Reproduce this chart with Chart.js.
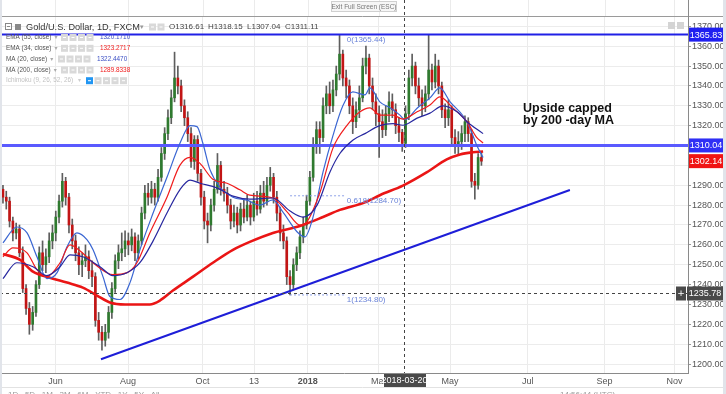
<!DOCTYPE html>
<html>
<head>
<meta charset="utf-8">
<script src="https://cdn.jsdelivr.net/npm/chart.js@4/dist/chart.umd.min.js"></script>
<style>
html,body{margin:0;padding:0;background:#fff;overflow:hidden}
canvas{display:block}
</style>
</head>
<body>
<canvas id="c" width="726" height="394"></canvas>
<script>
// daily candles, one per bar index (0 = first bar on screen)
var opens = [1288,1284,1282,1272,1266,1268,1256,1238,1228,1220,
  1226,1240,1256,1250,1254,1262,1266,1274,1282,1292,
  1284,1270,1262,1256,1250,1252,1254,1247,1244,1222,
  1216,1212,1216,1226,1238,1252,1256,1258,1262,1260,
  1264,1256,1262,1276,1286,1284,1288,1284,1294,1306,
  1316,1324,1334,1344,1340,1330,1324,1316,1302,1313,
  1296,1284,1272,1270,1280,1288,1300,1288,1286,1280,
  1272,1276,1270,1278,1274,1280,1274,1282,1278,1286,
  1282,1290,1294,1284,1276,1266,1262,1244,1240,1250,
  1256,1264,1270,1282,1294,1310,1318,1314,1330,1336,
  1330,1338,1346,1356,1344,1340,1330,1322,1328,1334,
  1350,1354,1340,1332,1326,1322,1318,1326,1332,1328,
  1320,1316.61,1311.11,1326,1344,1350,1340,1334,1330,1336,
  1348,1342,1350,1340,1328,1324,1328,1314,1310,1312,
  1316,1322,1316,1292,1290,1304];
var closes = [1284,1282,1272,1266,1268,1256,1238,1228,1220,1226,
  1240,1256,1250,1254,1262,1266,1274,1282,1292,1284,
  1270,1262,1256,1250,1252,1254,1247,1244,1222,1216,
  1212,1216,1226,1238,1252,1256,1258,1262,1260,1264,
  1256,1262,1276,1286,1284,1288,1284,1294,1306,1316,
  1324,1334,1344,1340,1330,1324,1316,1302,1313,1296,
  1284,1272,1270,1280,1288,1300,1288,1286,1280,1272,
  1276,1270,1278,1274,1280,1274,1282,1278,1286,1282,
  1290,1294,1284,1276,1266,1262,1244,1240,1250,1256,
  1264,1270,1282,1294,1310,1318,1314,1330,1336,1330,
  1338,1346,1356,1344,1340,1330,1322,1328,1334,1350,
  1354,1340,1332,1326,1322,1318,1326,1332,1328,1320,
  1316.61,1311.11,1326,1344,1350,1340,1334,1330,1336,1348,
  1342,1350,1340,1328,1324,1328,1314,1310,1312,1316,
  1322,1316,1292,1290,1304,1302.14];
var highs = [1290,1287,1284,1274,1271,1270,1259,1240,1231,1229,
  1242,1259,1262,1258,1266,1270,1277,1285,1296,1294,
  1286,1273,1265,1259,1256,1260,1257,1252,1246,1226,
  1219,1220,1229,1241,1255,1260,1266,1267,1266,1268,
  1266,1265,1279,1290,1291,1292,1291,1298,1309,1319,
  1328,1338,1357,1350,1343,1333,1327,1319,1315,1315,
  1298,1287,1276,1283,1292,1306,1302,1292,1289,1283,
  1280,1279,1281,1283,1285,1282,1286,1287,1290,1292,
  1294,1299,1296,1287,1279,1270,1264,1247,1253,1259,
  1267,1274,1285,1297,1314,1322,1322,1334,1340,1342,
  1343,1350,1365.44,1358,1348,1343,1334,1332,1340,1354,
  1360,1356,1344,1336,1330,1328,1330,1337,1336,1331,
  1324,1318.15,1330,1348,1356,1352,1344,1338,1340,1365.8,
  1351,1356,1353,1342,1331,1333,1330,1318,1317,1320,
  1325,1324,1318,1296,1306,1307];
var lows = [1281,1278,1269,1262,1263,1254,1236,1225,1215,1217,
  1224,1238,1247,1246,1251,1258,1262,1271,1279,1280,
  1266,1258,1252,1245,1244,1249,1243,1239,1219,1212,
  1207,1209,1213,1223,1236,1248,1252,1254,1255,1257,
  1252,1253,1260,1273,1280,1281,1280,1282,1292,1303,
  1313,1321,1332,1336,1327,1320,1312,1299,1298,1292,
  1280,1268,1261,1267,1277,1286,1285,1282,1276,1268,
  1269,1266,1267,1271,1272,1270,1272,1275,1276,1279,
  1280,1287,1281,1272,1262,1258,1240,1234.8,1238,1247,
  1253,1261,1268,1280,1292,1306,1306,1312,1326,1326,
  1327,1335,1343,1340,1334,1326,1316,1319,1324,1332,
  1346,1336,1328,1320,1304,1314,1315,1322,1324,1316,
  1312,1307.04,1309,1323,1340,1336,1330,1325,1327,1333,
  1338,1339,1336,1324,1319,1320,1310,1306,1305,1308,
  1312,1312,1289,1283,1288,1300];

// moving averages (bar index, price)
var ma200Idx = [0,5.2,9.1,14.2,19.4,24.2,28.5,32.4,37,44.5,47.6,51.5,57.6,63.6,69.7,74.8,81.8,90,97,102.1,109.7,114.2,121.2,128.5,134.5,138.5,142.4,145.5];
var ma200Val = [1255.4,1252.4,1246.5,1243.5,1241,1238.5,1234.5,1231,1230,1230,1232,1237,1244,1251,1257.5,1261.5,1266,1269.5,1274,1277.6,1281.4,1285,1289.8,1296.6,1303,1305.5,1306.6,1307];
var ma20Idx = [0,4.2,7.3,10.3,13.3,16.4,19.4,22.4,25.5,27.3,30.3,32.4,35.5,38.5,41.5,45.5,49.7,53.6,56.7,58.8,60.6,62.7,65.8,69.7,73.9,77.9,81.8,84.8,89.1,91.5,93.9,97,100,103,106,109.7,111.2,114.2,117.3,120.3,121.8,125.5,129.4,132.4,135.5,139.4,141.5,143.6,145.5];
var ma20Val = [1261,1269,1266,1254,1243,1246,1259,1266,1262.5,1257.5,1244,1234,1232.5,1241,1257.5,1276,1294,1311,1320,1319.5,1311,1298,1289,1284,1282.5,1280,1282.6,1276.6,1266.6,1264,1273.6,1296.7,1315,1330,1337,1335.5,1339,1332,1329,1325.3,1323,1328.8,1334,1339,1332,1325,1318.8,1310,1304];
var ema34Idx = [0,3,7.3,10.3,13.3,17.3,20.3,23.3,27.3,31.5,33.3,37.6,40.6,44.5,49.7,53.6,56.7,59.7,63.6,67.9,71.8,74.8,81.8,86.1,90,92.1,96.1,100,104.2,108.2,111.2,114.2,118.2,121.2,125.5,129.4,132.4,136.4,140.6,143.6,145.5];
var ema34Val = [1254,1258.5,1256,1247.5,1244,1251,1260,1257,1251,1246,1245,1246,1251,1266,1284,1300,1304,1301,1293,1291,1287.7,1285,1283.6,1276.6,1270,1271.6,1286.6,1308.7,1320,1327,1329,1325.3,1325.3,1323.3,1327,1330.4,1334.5,1328.8,1322,1314,1311.3];
var ema55Idx = [0,4.2,9.1,13.3,17.3,20.3,24.2,29.4,33.3,37.6,41.5,45.5,49.7,53.6,56.7,59.7,64.8,69.7,74.8,81.8,87,90.9,95.2,99.1,102.1,106.1,109.7,114.2,118.2,121.2,125.5,129.4,133.3,137.6,140.6,145.5];
var ema55Val = [1243,1251,1249,1244.5,1249,1255,1254,1249,1244.5,1246,1251,1262,1276,1287.7,1292.6,1291,1288.7,1284.5,1283,1283.6,1277,1274,1280,1296.7,1306,1312.8,1316,1320,1321,1320.2,1323.8,1326.3,1330,1327,1322,1316];

// drawings
var levelLines = [1365.83, 1310.04];
var trendIdx = [29.7, 171.8];
var trendVal = [1202.4, 1287.6];
var fibIdx = [87, 103.6];
var fibLevels = [1365.44, 1284.70, 1234.80];
var fibNames = ['0(1365.44)', '0.618(1284.70)', '1(1234.80)'];
var lastClose = 1302.14;
var crossIdx = 121.5;
var crossPrice = 1235.78;
var crossDate = '2018-03-20';

// axes
var xTickPos = [15.9, 37.9, 60.5, 76.1, 92.4, 113.9, 135.5, 159.0, 182.3, 203.5];
var xTickLabels = ['Jun','Aug','Oct','13','2018','Mar','May','Jul','Sep','Nov'];
var yTicks = [1200,1210,1220,1230,1240,1250,1260,1270,1280,1290,1300,1310,1320,1330,1340,1350,1360,1370];

var legendRows = [
  {name:'EMA (55, close)', value:'1320.1710', color:'#3b4fc4', ix:61, vx:100},
  {name:'EMA (34, close)', value:'1323.2717', color:'#f01c1c', ix:61, vx:100},
  {name:'MA (20, close)', value:'1322.4470', color:'#3b4fc4', ix:58, vx:97},
  {name:'MA (200, close)', value:'1289.8338', color:'#f01c1c', ix:61, vx:100}
];

Chart.defaults.font.family = "'Liberation Sans', Arial, sans-serif";

var upCol = '#2f7a2f', downCol = '#c21515';
var bodyCols = closes.map(function(c, i){ return c >= opens[i] ? upCol : downCol; });

function pts(xs, ys){ return xs.map(function(x, i){ return {x:x, y:ys[i]}; }); }
function lineDs(data, color, w, dash){
  return {type:'line', data:data, borderColor:color, borderWidth:w, pointRadius:0,
    borderDash:dash || [], cubicInterpolationMode:'monotone', fill:false, order:1};
}

function txt(c, s, x, y, font, color, align){
  c.font = font; c.fillStyle = color; c.textAlign = align || 'left'; c.textBaseline = 'middle';
  c.fillText(s, x, y);
}
function tag(c, x, y, w, bg, s){
  c.fillStyle = bg; c.fillRect(x, y - 7, w, 14);
  txt(c, s, x + w / 2, y + 0.5, "9px 'Liberation Sans', Arial", '#fff', 'center');
}
function iconBoxes(c, x, y, n, first){
  for (var k = 0; k < n; k++) {
    c.fillStyle = (k === 0 && first) ? first : '#d9d9d9';
    c.fillRect(x + k * 8.5, y - 3.5, 7, 7);
    c.fillStyle = '#fff';
    c.fillRect(x + k * 8.5 + 2, y - 0.5, 3, 1);
  }
}

var overlay = {
  id:'overlay',
  beforeDraw: function(chart){
    var c = chart.ctx;
    c.save(); c.fillStyle = '#fff'; c.fillRect(0, 0, chart.width, chart.height); c.restore();
  },
  afterDraw: function(chart){
    var c = chart.ctx, xs = chart.scales.x, ys = chart.scales.y, a = chart.chartArea;
    c.save();
    // strip above the plot
    c.fillStyle = '#fff'; c.fillRect(0, 0, chart.width, a.top);
    c.strokeStyle = '#ebebeb'; c.lineWidth = 1;
    xTickPos.forEach(function(v){
      var x = Math.round(xs.getPixelForValue(v)) + 0.5;
      c.beginPath(); c.moveTo(x, 0); c.lineTo(x, a.top); c.stroke();
    });
    c.strokeStyle = '#9a9a9a';
    c.beginPath(); c.moveTo(2, a.top + 0.5); c.lineTo(723, a.top + 0.5); c.stroke();
    c.strokeStyle = '#8a8a8a';
    c.beginPath(); c.moveTo(a.right + 0.5, 0); c.lineTo(a.right + 0.5, a.bottom); c.stroke();

    // tooltip of the full screen button
    c.fillStyle = '#f6f6f6'; c.fillRect(331, 1, 66, 11);
    c.strokeStyle = '#d0d0d0'; c.strokeRect(331.5, 1.5, 65, 10);
    txt(c, 'Exit Full Screen (ESC)', 364, 7, "6.5px 'Liberation Sans', Arial", '#777', 'center');

    // crosshair
    var cx = Math.round(xs.getPixelForValue(crossIdx)) + 0.5;
    var cy = Math.round(ys.getPixelForValue(crossPrice)) + 0.5;
    c.strokeStyle = '#444'; c.setLineDash([3, 3]);
    c.beginPath(); c.moveTo(cx, 0); c.lineTo(cx, a.bottom); c.stroke();
    c.beginPath(); c.moveTo(a.left, cy); c.lineTo(a.right, cy); c.stroke();
    c.setLineDash([]);

    // fib labels
    fibLevels.forEach(function(v, i){
      var y = ys.getPixelForValue(v) + (i === 0 ? 4 : 5);
      txt(c, fibNames[i], xs.getPixelForValue(fibIdx[1]) + 2, y, "8px 'Liberation Sans', Arial", '#6b84d8');
    });

    // annotation
    txt(c, 'Upside capped', 523, 109, "bold 12.5px 'Liberation Sans', Arial", '#111');
    txt(c, 'by 200 -day MA', 523, 120.5, "bold 12.5px 'Liberation Sans', Arial", '#111');

    // legend block
    c.strokeStyle = '#888'; c.strokeRect(5.5, 23.5, 6, 6);
    c.fillStyle = '#888'; c.fillRect(7, 26, 3, 1);
    c.fillStyle = '#8a8a8a'; c.fillRect(15, 24, 6, 6);
    txt(c, 'Gold/U.S. Dollar, 1D, FXCM', 26, 27, "9.2px 'Liberation Sans', Arial", '#333');
    txt(c, '\u25BE', 140, 27, "7px 'DejaVu Sans'", '#999');
    iconBoxes(c, 149, 27, 2);
    var ohlc = ['O1316.61', 'H1318.15', 'L1307.04', 'C1311.11'], ox = [169, 208, 247, 285];
    ohlc.forEach(function(s, i){ txt(c, s, ox[i], 27, "8px 'Liberation Sans', Arial", '#444'); });

    var rowY = [37.5, 48.3, 59, 70, 80.7];
    var rowFont = "6.4px 'Liberation Sans', Arial";
    legendRows.forEach(function(r, i){
      txt(c, r.name, 6, rowY[i], rowFont, '#555');
      c.font = rowFont;
      txt(c, '\u25BE', 6 + c.measureText(r.name).width + 3, rowY[i], "6px 'DejaVu Sans'", '#aaa');
      iconBoxes(c, r.ix, rowY[i], 4);
      txt(c, r.value, r.vx, rowY[i], rowFont, r.color);
    });
    txt(c, 'Ichimoku (9, 26, 52, 26)', 6, rowY[4], rowFont, '#c2c2c2');
    txt(c, '\u25BE', 78, rowY[4], "6px 'DejaVu Sans'", '#ccc');
    iconBoxes(c, 86, rowY[4], 5, '#2196f3');

    // small buttons top right of plot
    c.fillStyle = '#d4d4d4'; c.fillRect(668, 22, 7, 7); c.fillRect(677, 22, 7, 7);

    // price tags
    tag(c, a.right + 1, ys.getPixelForValue(levelLines[0]), 34, '#2020f0', levelLines[0].toFixed(2));
    tag(c, a.right + 1, ys.getPixelForValue(levelLines[1]), 34, '#2f2ff5', levelLines[1].toFixed(2));
    tag(c, a.right + 1, ys.getPixelForValue(lastClose), 34, '#f01414', lastClose.toFixed(2));
    c.fillStyle = '#4a4a4a'; c.fillRect(a.right - 12, cy - 7, 10, 14);
    txt(c, '+', a.right - 7, cy, "9px 'DejaVu Sans'", '#fff', 'center');
    tag(c, a.right - 1, cy, 36, '#4a4a4a', crossPrice.toFixed(2));
    // date tag
    c.fillStyle = '#4a4a4a'; c.fillRect(cx - 20.5, a.bottom + 1, 42, 14);
    txt(c, crossDate, cx, a.bottom + 8, "9px 'Liberation Sans', Arial", '#fff', 'center');

    // bottom toolbar edge
    c.strokeStyle = '#e2e2e2';
    c.beginPath(); c.moveTo(2, 387.5); c.lineTo(723, 387.5); c.stroke();
    txt(c, '1D   5D   1M   3M   6M   YTD   1Y   5Y   All', 8, 395, "8px 'Liberation Sans', Arial", '#999');
    txt(c, '14:56:44 (UTC)', 560, 395, "8px 'Liberation Sans', Arial", '#999');

    // window frame
    c.fillStyle = '#e1e4ea'; c.fillRect(0, 0, 2, chart.height); c.fillRect(723, 0, 3, chart.height);
    c.restore();
  }
};

new Chart(document.getElementById('c'), {
  type:'bar',
  data:{
    datasets:[
      lineDs(pts(ema55Idx, ema55Val), '#27279f', 1.2),
      lineDs(pts(ema34Idx, ema34Val), '#f01c1c', 1.2),
      lineDs(pts(ma20Idx, ma20Val), '#3a66d2', 1.2),
      lineDs(pts(ma200Idx, ma200Val), '#ea1515', 2.6),
      lineDs(pts([-0.9, 207.6], [levelLines[0], levelLines[0]]), '#2020e6', 2),
      lineDs(pts([-0.9, 207.6], [levelLines[1], levelLines[1]]), '#5a5aff', 3),
      lineDs(pts(trendIdx, trendVal), '#1e1ed8', 2),
      lineDs(pts(fibIdx, [fibLevels[1], fibLevels[1]]), '#8ea2e8', 1, [2, 2]),
      lineDs(pts(fibIdx, [fibLevels[2], fibLevels[2]]), '#8ea2e8', 1, [2, 2]),
      {type:'bar', data:highs.map(function(h, i){ return {x:i, y:[lows[i], h]}; }),
        backgroundColor:'#5e5e5e', barThickness:1, grouped:false, order:6},
      {type:'bar', data:closes.map(function(cl, i){ return {x:i, y:[Math.min(opens[i], cl), Math.max(opens[i], cl)]}; }),
        backgroundColor:bodyCols, barThickness:2, minBarLength:1, grouped:false, order:5}
    ]
  },
  options:{
    responsive:false,
    animation:false,
    events:[],
    layout:{padding:{top:16, left:0, right:0, bottom:0}},
    plugins:{legend:{display:false}, tooltip:{enabled:false}},
    scales:{
      x:{
        type:'linear', min:-0.9, max:207.6, offset:false,
        grid:{color:'#ebebeb', offset:false, drawTicks:false},
        border:{color:'#8a8a8a'},
        afterBuildTicks:function(s){ s.ticks = xTickPos.map(function(v){ return {value:v}; }); },
        afterFit:function(s){ s.height = 21; },
        ticks:{
          autoSkip:false, maxRotation:0, padding:3, color:'#555',
          font:function(ctx){ return {size:9, weight: (ctx.index === 4 ? 'bold' : 'normal')}; },
          callback:function(v, i){ return xTickLabels[i]; }
        }
      },
      y:{
        position:'right', min:1195.5, max:1375.2,
        grid:{color:'#ececec', tickColor:'#999', tickLength:3},
        border:{color:'#8a8a8a'},
        afterBuildTicks:function(s){ s.ticks = yTicks.map(function(v){ return {value:v}; }); },
        afterFit:function(s){ s.width = 38; },
        ticks:{padding:1, color:'#555', font:{size:9}, callback:function(v){ return Number(v).toFixed(2); }}
      }
    }
  },
  plugins:[overlay]
});
</script>
</body>
</html>
